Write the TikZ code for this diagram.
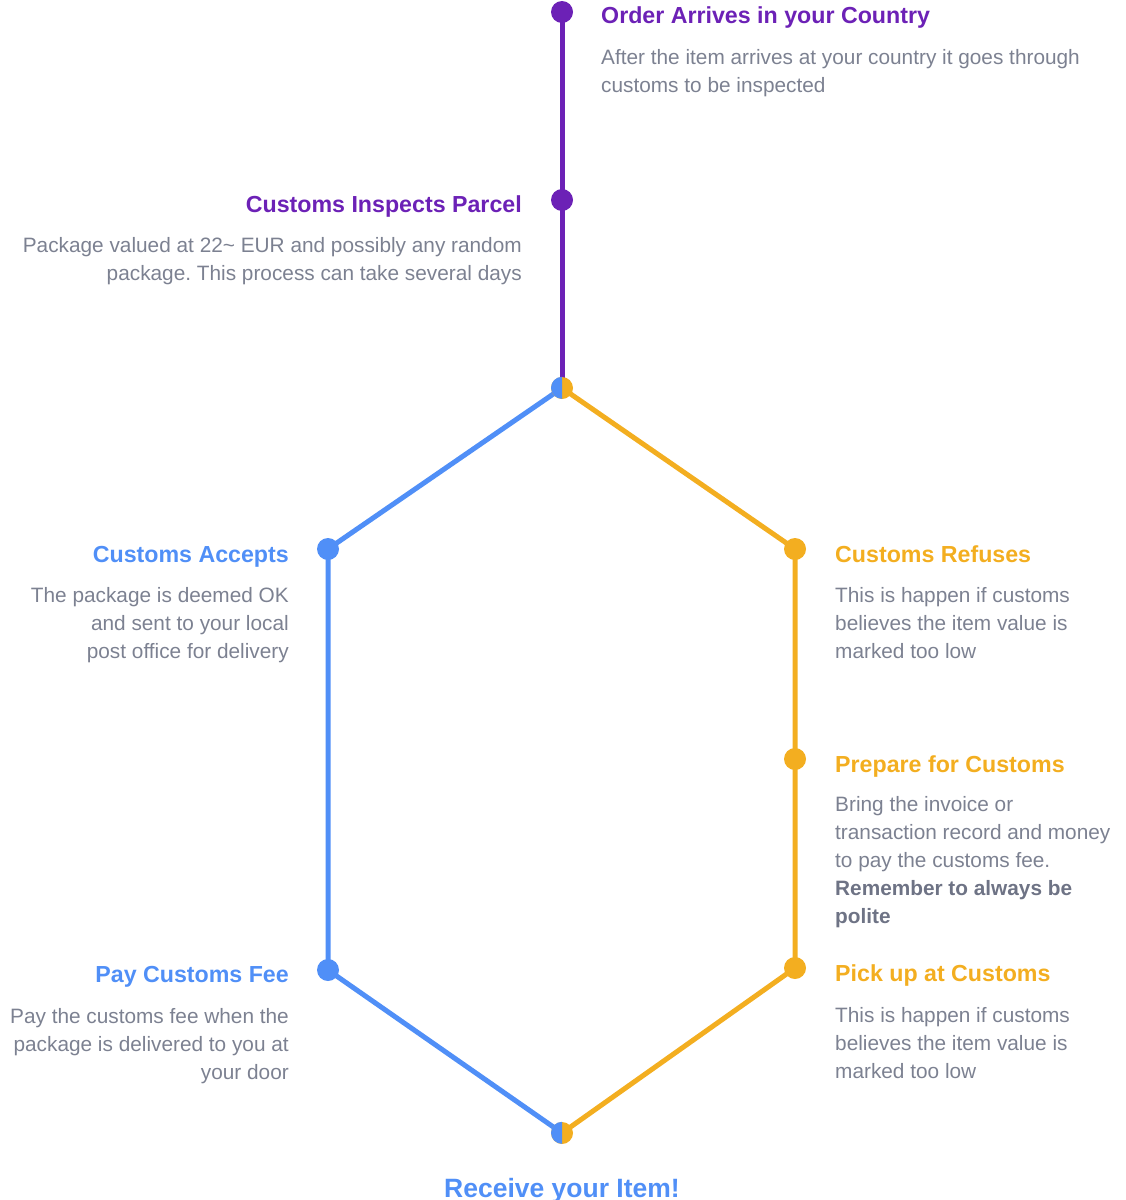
\documentclass[tikz,border=0pt]{standalone}
\usepackage{fontspec}
\setmainfont{Liberation Sans}
\frenchspacing
\definecolor{cpurple}{RGB}{108,33,182}
\definecolor{cblue}{RGB}{80,143,247}
\definecolor{corange}{RGB}{243,174,32}
\definecolor{cgray}{RGB}{124,129,145}
\definecolor{cgrayb}{RGB}{110,115,133}
\tikzset{
  dotnode/.style={circle,fill=#1,inner sep=0pt,minimum size=22pt},
  edge/.style={line width=5pt,draw=#1},
  ttl/.style={font=\fontsize{23.2}{28}\selectfont\bfseries,text=#1,inner sep=0pt},
  bodyl/.style={font=\fontsize{20.8}{28}\selectfont,text=cgray,inner sep=0pt,align=left,anchor=base west},
  bodyr/.style={font=\fontsize{20.8}{28}\selectfont,text=cgray,inner sep=0pt,align=right,anchor=base east},
}
\begin{document}
\begin{tikzpicture}[x=1pt,y=-1pt]
\useasboundingbox (0,0) rectangle (1126,1200);
% coordinates
\coordinate (p1) at (562,12);
\coordinate (p2) at (562,200);
\coordinate (sp) at (562,388);
\coordinate (b1) at (328,549);
\coordinate (b2) at (328,970);
\coordinate (o1) at (795,549);
\coordinate (o2) at (795,759);
\coordinate (o3) at (795,968);
\coordinate (en) at (562,1133);
% connectors
\draw[edge=cpurple] (p1) -- (p2) -- (sp);
\draw[edge=cblue,line join=round] (sp) -- (b1) -- (b2) -- (en);
\draw[edge=corange,line join=round] (sp) -- (o1) -- (o2) -- (o3) -- (en);
% dots
\node[dotnode=cpurple] (n1) at (p1) {};
\node[dotnode=cpurple] (n2) at (p2) {};
\node[dotnode=corange] (ns) at (sp) {};
\fill[cblue] (ns.north) arc[start angle=90,end angle=270,radius=11pt] -- cycle;
\node[dotnode=cblue] (nb1) at (b1) {};
\node[dotnode=cblue] (nb2) at (b2) {};
\node[dotnode=corange] (no1) at (o1) {};
\node[dotnode=corange] (no2) at (o2) {};
\node[dotnode=corange] (no3) at (o3) {};
\node[dotnode=corange] (ne) at (en) {};
\fill[cblue] (ne.north) arc[start angle=90,end angle=270,radius=11pt] -- cycle;
% texts
\node[ttl=cpurple,anchor=base west] (t1) at (601,23) {Order Arrives in your Country};
\node[bodyl] (d1) at (601,92) {After the item arrives at your country it goes through\\customs to be inspected};
\node[ttl=cpurple,anchor=base east] (t2) at (522,212) {Customs Inspects Parcel};
\node[bodyr] (d2) at (522,280) {Package valued at 22\textasciitilde{} EUR and possibly any random\\package. This process can take several days};
\node[ttl=cblue,anchor=base east] (t3) at (289,562) {Customs Accepts};
\node[bodyr] (d3) at (289,658) {The package is deemed OK\\and sent to your local\\post office for delivery};
\node[ttl=corange,anchor=base west] (t4) at (835,562) {Customs Refuses};
\node[bodyl] (d4) at (835,658) {This is happen if customs\\believes the item value is\\marked too low};
\node[ttl=corange,anchor=base west] (t5) at (835,772) {Prepare for Customs};
\node[bodyl] (d5) at (835,923) {Bring the invoice or\\transaction record and money\\to pay the customs fee.\\{\bfseries\color{cgrayb}Remember to always be}\\{\bfseries\color{cgrayb}polite}};
\node[ttl=corange,anchor=base west] (t6) at (835,981) {Pick up at Customs};
\node[bodyl] (d6) at (835,1078) {This is happen if customs\\believes the item value is\\marked too low};
\node[ttl=cblue,anchor=base east] (t7) at (289,982) {Pay Customs Fee};
\node[bodyr] (d7) at (289,1079) {Pay the customs fee when the\\package is delivered to you at\\your door};
\node[font=\fontsize{26.5}{30}\selectfont\bfseries,text=cblue,inner sep=0pt,anchor=base] (t8) at (562,1197) {Receive your Item!};
\end{tikzpicture}
\end{document}
